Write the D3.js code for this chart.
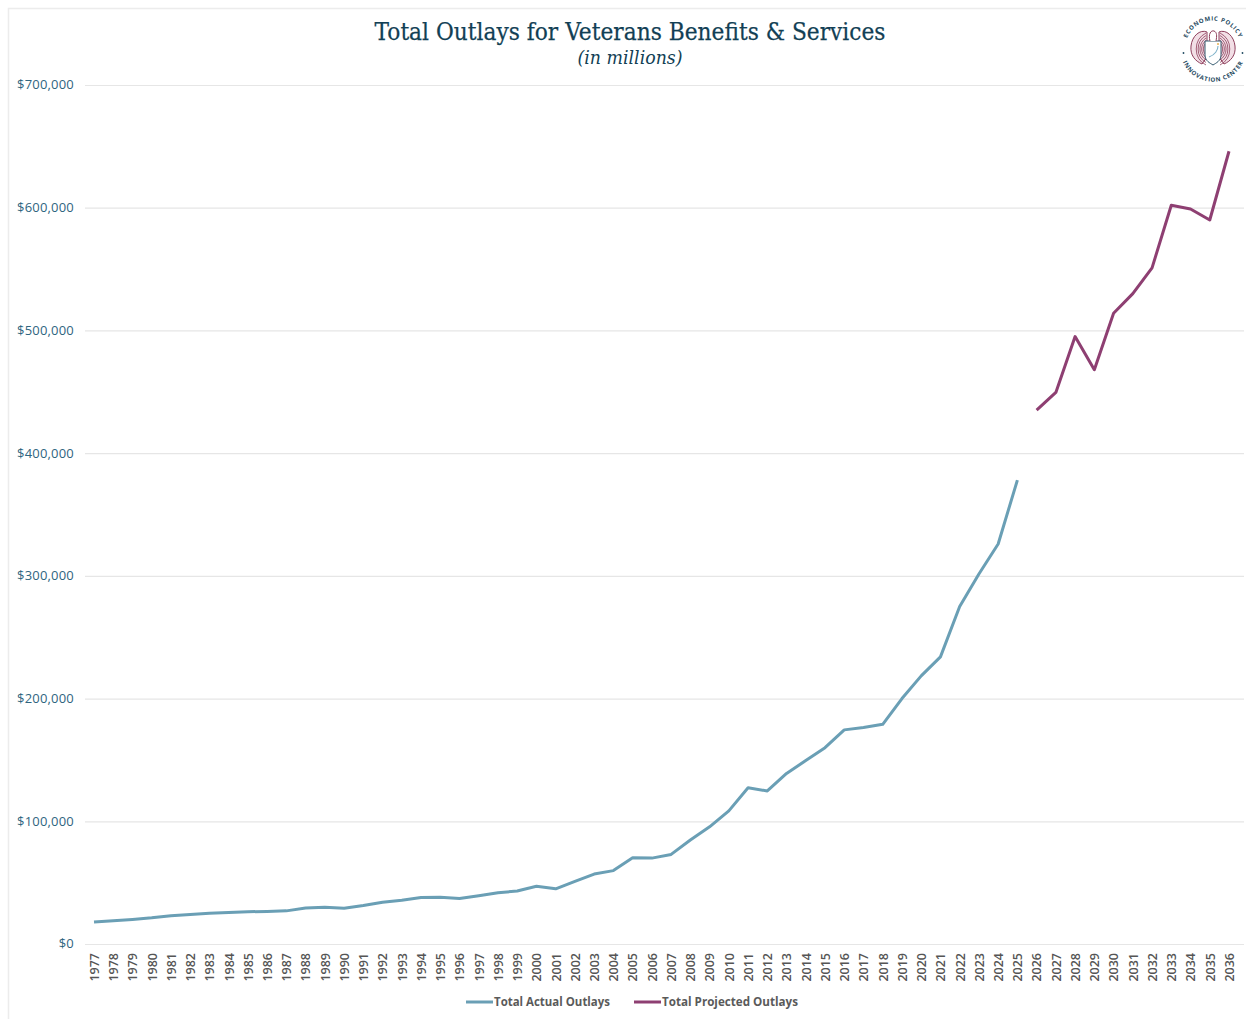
<!DOCTYPE html>
<html><head><meta charset="utf-8">
<script src="https://cdn.jsdelivr.net/npm/d3@7/dist/d3.min.js"></script>
<style>html,body{margin:0;padding:0;background:#fff}svg{display:block}</style></head>
<body><svg id="c" width="1246" height="1019"></svg>
<script>
const titleText = "Total Outlays for Veterans Benefits & Services";
const subtitleText = "(in millions)";
const actualYears = d3.range(1977, 2026);
const actualValues = [18000,19000,20000,21300,23000,24000,25000,25600,26300,26500,27000,29300,30000,29200,31300,34000,35700,37900,38000,37000,39300,41800,43200,47000,45000,51000,57000,59800,70200,70000,73000,84800,95500,108500,127300,124700,139000,149500,160000,174500,176500,179000,200000,218500,234000,275000,301500,326000,378000];
const projectedYears = d3.range(2026, 2037);
const projectedValues = [435000,449500,495000,468000,514000,530000,551000,602000,599000,590000,646000];
const yTicks = [0,100000,200000,300000,400000,500000,600000,700000];
const legendLabels = ["Total Actual Outlays","Total Projected Outlays"];
const colors = ["#6a9fb5","#8e3f72"];

const svg = d3.select("#c");
const x = d3.scaleLinear().domain([1977,2036]).range([94,1229]);
const y = d3.scaleLinear().domain([0,700000]).range([944,85]);

// frame
svg.append("path").attr("d","M8.5,1019V8.5H1246").attr("fill","none").attr("stroke","#ececec").attr("stroke-width",1.5);

// y gridlines and labels
const yAxis = d3.axisLeft(y).tickValues(yTicks).tickSize(-1159).tickPadding(11).tickFormat(d=>"$"+d3.format(",")(d));
const gy = svg.append("g").attr("transform","translate(85,0)").call(yAxis);
gy.select(".domain").remove();
gy.selectAll("line").attr("stroke","#e6e6e6").attr("stroke-width",1.2);
gy.selectAll("text").attr("fill","#2f6580").attr("font-family","'Open Sans'").attr("font-size",13).attr("letter-spacing",0.2).attr("dy","0.3em");

// x labels
const xAxis = d3.axisBottom(x).tickValues(d3.range(1977,2037)).tickSize(0).tickFormat(d3.format("d"));
const gx = svg.append("g").attr("transform","translate(0,944)").call(xAxis);
gx.select(".domain").remove();
gx.selectAll("text").attr("text-anchor","end").attr("dominant-baseline","middle")
  .attr("transform","translate(1,9) rotate(-90)").attr("x",0).attr("y",0).attr("dy",0)
  .attr("fill","#555").attr("font-family","'Open Sans'").attr("font-weight",600).attr("font-size",12.5);

// lines
const line = d3.line().x(d=>x(d[0])).y(d=>y(d[1]));
svg.append("path").attr("d",line(d3.zip(actualYears,actualValues))).attr("fill","none").attr("stroke",colors[0]).attr("stroke-width",3).attr("stroke-linejoin","round");
svg.append("path").attr("d",line(d3.zip(projectedYears,projectedValues))).attr("fill","none").attr("stroke",colors[1]).attr("stroke-width",3).attr("stroke-linejoin","round");

// titles
svg.append("text").text(titleText).attr("x",630).attr("y",40).attr("text-anchor","middle").attr("fill","#123f55").attr("stroke","#123f55").attr("stroke-width",0.25).attr("font-family","'DejaVu Serif'").attr("font-size",25).attr("textLength",511).attr("lengthAdjust","spacingAndGlyphs");
svg.append("text").text(subtitleText).attr("x",630).attr("y",64).attr("text-anchor","middle").attr("fill","#123f55").attr("font-family","'DejaVu Serif'").attr("font-style","italic").attr("font-size",18.5).attr("textLength",105).attr("lengthAdjust","spacingAndGlyphs");

// legend
const lg = svg.append("g");
[[466,494,610],[634,662,798]].forEach((p,i)=>{
  lg.append("line").attr("x1",p[0]).attr("x2",p[1]-1).attr("y1",1002).attr("y2",1002).attr("stroke",colors[i]).attr("stroke-width",3);
  lg.append("text").text(legendLabels[i]).attr("x",p[1]).attr("y",1006).attr("fill","#5a5a5a").attr("font-family","'Open Sans'").attr("font-weight",700).attr("font-size",12).attr("textLength",p[2]-p[1]).attr("lengthAdjust","spacingAndGlyphs");
});

// logo
const logo = svg.append("g").attr("transform","translate(1213,49)");
const defs = svg.append("defs");
defs.append("path").attr("id","arcTop").attr("d","M-27,7A28,28 0 1 1 27,7");
defs.append("path").attr("id","arcBot").attr("d","M-32.5,-6A33,33 0 1 0 32.5,-6");
const wingColor = "#8e3f5c";
[-1,1].forEach(s=>{
  const w = logo.append("g").attr("transform",`scale(${s},1)`);
  w.append("path").attr("d","M6,-17C13,-20 21,-13 22,-3C23,6 18,12 11,15L6,8Z").attr("fill","#f2dfe6").attr("stroke",wingColor).attr("stroke-width",1);
  [8,10.5,13,15.5,18].forEach(r=>w.append("path").attr("d",`M7,${-r+2}A${r},${r} 0 0 1 7,${r-2}`).attr("fill","none").attr("stroke",wingColor).attr("stroke-width",.8));
  logo.append("circle").attr("cx",s*29.5).attr("cy",4).attr("r",.9).attr("fill","#1f4a60");
});
logo.append("path").attr("d","M-8,-8H8V6C8,12 3,14 0,16C-3,14 -8,12 -8,6Z").attr("fill","#fff").attr("stroke","#1f4a60").attr("stroke-width",.9);
logo.append("path").attr("d","M-3,-8C-5,-15 -2,-19 1,-18C4,-17 4,-13 3,-8").attr("fill","#fff").attr("stroke",wingColor).attr("stroke-width",1);
logo.append("path").attr("d","M-4,8C2,6 5,1 5,-3").attr("fill","none").attr("stroke","#7fb2c9").attr("stroke-width",1.1);
logo.append("circle").attr("cx",5).attr("cy",-5).attr("r",1.1).attr("fill","#e8b45a");
[["#arcTop","ECONOMIC POLICY"],["#arcBot","INNOVATION CENTER"]].forEach(t=>{
  logo.append("text").attr("font-family","'Open Sans'").attr("font-weight",700).attr("font-size",6).attr("fill","#1f4a60").attr("letter-spacing",0.7)
    .append("textPath").attr("href",t[0]).attr("startOffset","50%").attr("text-anchor","middle").text(t[1]);
});
</script></body></html>
